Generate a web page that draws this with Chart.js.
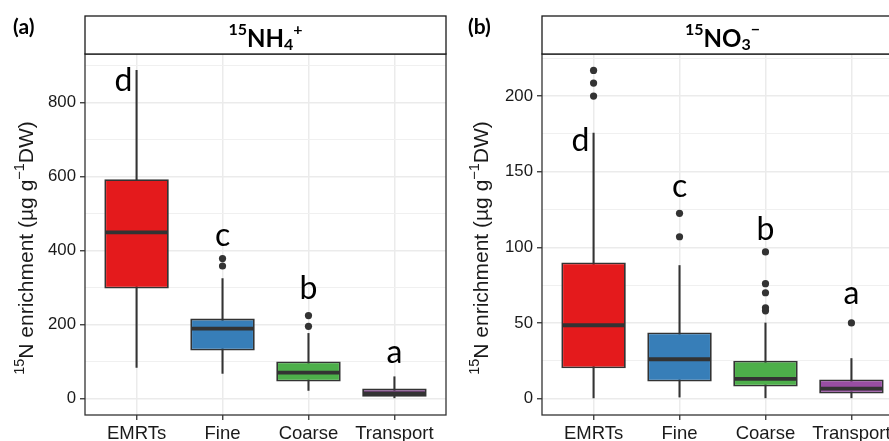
<!DOCTYPE html>
<html>
<head>
<meta charset="utf-8">
<script src="https://cdn.jsdelivr.net/npm/chart.js@4.4.0/dist/chart.umd.min.js"></script>
<style>
  html, body { margin: 0; padding: 0; background: #fff; overflow: hidden; width: 889px; height: 441px; }
  .panel { position: absolute; top: 0; }
  #wrapA { left: 0; }
  #wrapB { left: 445px; }
</style>
</head>
<body>
<div class="panel" id="wrapA"><canvas id="nh4" width="450" height="441"></canvas></div>
<div class="panel" id="wrapB"><canvas id="no3" width="480" height="441"></canvas></div>
<script>
const categories = ['EMRTs', 'Fine', 'Coarse', 'Transport'];
const boxColors = ['#E41A1C', '#377EB8', '#4DAF4A', '#984EA3'];

/**
 * (a) 15NH4+
*/
const nh4Low = [84, 68, 22, 0];
const nh4Q1 = [297, 130, 46, 5];
const nh4Median = [449, 189, 70, 14];
const nh4Q3 = [592, 216, 100, 27];
const nh4High = [886, 324, 176, 59];
const nh4Outliers = [[], [378, 358], [224, 195], []];
const nh4Letters = ['d', 'c', 'b', 'a'];
const nh4LetterAt = [830, 411, 270, 95];
const nh4Ticks = [0, 200, 400, 600, 800];

/**
 * (b) 15NO3-
*/
const no3Low = [0.5, 1, 0, 0.5];
const no3Q1 = [20, 11.3, 8, 3.3];
const no3Median = [48.5, 26, 13, 6.6];
const no3Q3 = [90, 43.7, 25, 12.6];
const no3High = [175.5, 88, 50, 26.5];
const no3Outliers = [[217, 208.6, 200], [122.5, 107], [97, 76, 70, 60, 58], [50]];
const no3Letters = ['d', 'c', 'b', 'a'];
const no3LetterAt = [163.6, 133, 105, 62.3];
const no3Ticks = [0, 50, 100, 150, 200];

const AXIS_FONT = '"Liberation Sans", Arial, sans-serif';
const TITLE_FONT = 'Lato, "Liberation Sans", sans-serif';

function drawParts(ctx, parts, cx, base) {
  let total = 0;
  parts.forEach(p => { ctx.font = p.font; p.w = ctx.measureText(p.t).width; total += p.w; });
  let xx = cx - total / 2;
  ctx.textAlign = 'left';
  ctx.textBaseline = 'alphabetic';
  parts.forEach(p => { ctx.font = p.font; ctx.fillText(p.t, xx, base + p.dy); xx += p.w; });
}

function yTitleParts() {
  const big = '21px ' + AXIS_FONT, small = '14.5px ' + AXIS_FONT;
  return [
    {t: '15', font: small, dy: -9},
    {t: 'N enrichment (µg g', font: big, dy: 0},
    {t: '\u22121', font: small, dy: -9},
    {t: 'DW)', font: big, dy: 0},
  ];
}

function makeDecor(s) {
  return {
    id: 'decor',
    afterDatasetsDraw(chart) {
      const {ctx, chartArea: a, scales: {x, y}} = chart;
      const boxes = chart.getDatasetMeta(1).data;
      ctx.save();
      ctx.strokeStyle = '#333';
      ctx.lineWidth = 3.8;
      boxes.forEach((bar, i) => {
        const p = bar.getProps(['x', 'width'], true);
        const yy = y.getPixelForValue(s.median[i]);
        ctx.beginPath();
        ctx.moveTo(p.x - p.width / 2 + 1.5, yy);
        ctx.lineTo(p.x + p.width / 2 - 1.5, yy);
        ctx.stroke();
      });
      // significance letters
      ctx.fillStyle = '#000';
      ctx.font = '32px ' + TITLE_FONT;
      ctx.textAlign = 'center';
      ctx.textBaseline = 'alphabetic';
      s.letters.forEach((t, i) => {
        ctx.fillText(t, x.getPixelForValue(i) + (i === 0 ? -13 : 0), y.getPixelForValue(s.letterAt[i]));
      });
      // panel border
      ctx.strokeStyle = '#333';
      ctx.lineWidth = 1.3;
      ctx.strokeRect(a.left, a.top, a.right - a.left, a.bottom - a.top);
      ctx.restore();
    },
    afterDraw(chart) {
      const {ctx, chartArea: a} = chart;
      ctx.save();
      // strip
      ctx.fillStyle = '#fff';
      ctx.fillRect(a.left, 16, a.right - a.left, a.top - 16);
      ctx.strokeStyle = '#1a1a1a';
      ctx.lineWidth = 1.3;
      ctx.strokeRect(a.left, 16, a.right - a.left, a.top - 16);
      ctx.fillStyle = '#000';
      drawParts(ctx, s.strip, (a.left + a.right) / 2, 47);
      // panel tag
      ctx.font = 'bold 21px ' + TITLE_FONT;
      ctx.textAlign = 'left';
      ctx.fillText(s.tag, s.tagX, 34);
      // y title
      ctx.fillStyle = '#1a1a1a';
      ctx.translate(s.titleX, 248);
      ctx.rotate(-Math.PI / 2);
      drawParts(ctx, yTitleParts(), 0, 0);
      ctx.restore();
    }
  };
}

function boxChart(canvas, s) {
  const all = s.low.concat(s.high, s.outliers.flat());
  const lo = Math.min(...all), hi = Math.max(...all);
  const pad = (hi - lo) * 0.05;
  const step = s.ticks[1] - s.ticks[0];
  const tickVals = [];
  for (let v = s.ticks[0] - step; v <= hi + pad; v += step / 2) {
    if (v >= lo - pad) tickVals.push(v);
  }
  const isMajor = v => s.ticks.includes(v);
  const idx = categories.map((c, i) => i);
  const points = [];
  s.outliers.forEach((list, i) => list.forEach(v => points.push({x: i, y: v})));

  return new Chart(canvas, {
    type: 'bar',
    data: {
      datasets: [
        {
          label: 'whiskers',
          data: idx.map(i => ({x: i, y: [s.low[i], s.high[i]]})),
          backgroundColor: '#333',
          barThickness: 1.4,
          grouped: false,
          order: 3,
        },
        {
          label: 'boxes',
          data: idx.map(i => ({x: i, y: [s.q1[i], s.q3[i]]})),
          backgroundColor: boxColors,
          borderColor: '#333',
          borderWidth: 1.8,
          borderSkipped: false,
          barPercentage: 0.75,
          categoryPercentage: 1,
          grouped: false,
          order: 2,
        },
        {
          label: 'outliers',
          type: 'line',
          data: points,
          showLine: false,
          pointRadius: 3.6,
          pointBackgroundColor: '#333',
          pointBorderWidth: 0,
          order: 1,
        },
      ],
    },
    plugins: [makeDecor(s)],
    options: {
      responsive: false,
      animation: false,
      layout: {padding: {top: 54, right: s.padRight, left: 0, bottom: 0}},
      plugins: {legend: {display: false}, tooltip: {enabled: false}},
      scales: {
        x: {
          type: 'linear',
          offset: false,
          min: -0.6,
          max: categories.length - 0.4,
          afterBuildTicks: sc => { sc.ticks = idx.map(v => ({value: v})); },
          grid: {offset: false, color: '#EBEBEB', lineWidth: 1.5, tickLength: 5, tickColor: '#333', tickWidth: 1.3},
          border: {display: false},
          ticks: {
            color: '#1a1a1a', font: {family: AXIS_FONT, size: 18.5}, padding: 3,
            maxRotation: 0, autoSkip: false,
            callback: v => categories[v],
          },
          afterFit: sc => { sc.height = 26; },
        },
        y: {
          min: lo - pad,
          max: hi + pad,
          afterBuildTicks: sc => { sc.ticks = tickVals.map(v => ({value: v})); },
          grid: {
            color: c => (c.tick && isMajor(c.tick.value)) ? '#EBEBEB' : '#F0F0F0',
            lineWidth: c => (c.tick && isMajor(c.tick.value)) ? 1.5 : 1,
            tickLength: 5,
            tickColor: c => (c.tick && isMajor(c.tick.value)) ? '#333' : 'rgba(0,0,0,0)',
            tickWidth: 1.3,
          },
          border: {display: false},
          ticks: {
            color: '#1a1a1a',
            font: {family: AXIS_FONT, size: 16.8},
            padding: 4,
            callback: v => isMajor(v) ? String(v) : '',
          },
          afterFit: sc => { sc.width = s.axisWidth; },
        },
      },
    },
  });
}

const ctxNh4 = document.getElementById('nh4');
if (ctxNh4) {
  window.chartA = boxChart(ctxNh4, {
    low: nh4Low, q1: nh4Q1, median: nh4Median, q3: nh4Q3, high: nh4High,
    outliers: nh4Outliers, letters: nh4Letters, letterAt: nh4LetterAt, ticks: nh4Ticks,
    axisWidth: 85, padRight: 4, tag: '(a)', tagX: 13, titleX: 33,
    strip: [
      {t: '15', font: 'bold 16px ' + TITLE_FONT, dy: -12},
      {t: 'NH', font: 'bold 24px ' + TITLE_FONT, dy: 0},
      {t: '4', font: 'bold 16px ' + TITLE_FONT, dy: 3},
      {t: '+', font: 'bold 16px ' + TITLE_FONT, dy: -12},
    ],
  });
}

const ctxNo3 = document.getElementById('no3');
if (ctxNo3) {
  window.chartB = boxChart(ctxNo3, {
    low: no3Low, q1: no3Q1, median: no3Median, q3: no3Q3, high: no3High,
    outliers: no3Outliers, letters: no3Letters, letterAt: no3LetterAt, ticks: no3Ticks,
    axisWidth: 97, padRight: 22, tag: '(b)', tagX: 23, titleX: 43,
    strip: [
      {t: '15', font: 'bold 16px ' + TITLE_FONT, dy: -12},
      {t: 'NO', font: 'bold 24px ' + TITLE_FONT, dy: 0},
      {t: '3', font: 'bold 16px ' + TITLE_FONT, dy: 3},
      {t: '\u2212', font: 'bold 16px ' + TITLE_FONT, dy: -12},
    ],
  });
}
</script>
</body>
</html>
